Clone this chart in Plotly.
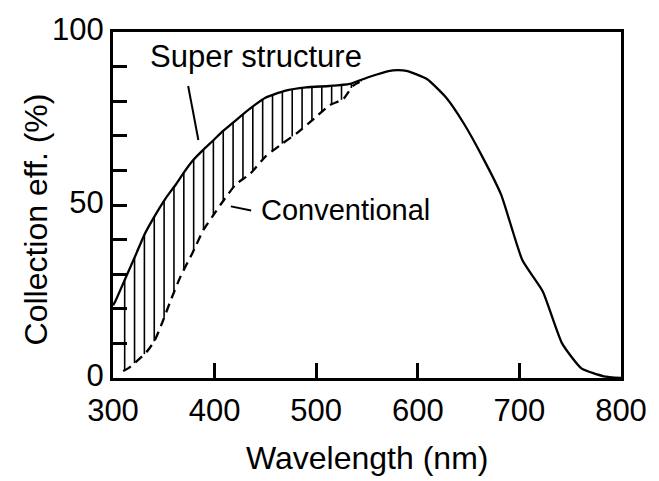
import numpy as np
import plotly.graph_objects as go

# ---- data ----
super_x = [300, 302, 314, 323, 331, 341, 352, 362, 370, 379, 389, 398, 406, 415, 427, 440, 450, 469, 490,
           513, 533, 552, 571, 580, 590, 609, 628, 645, 664, 682, 703, 723, 742, 761, 783, 800]
super_y = [21, 22, 30, 36, 41.5, 46.8, 52, 56, 59.5, 63, 66, 68.5, 70.8, 73, 76, 79, 81, 83, 84,
           84.4, 85, 87, 88.7, 89, 88.7, 86.4, 81, 73.7, 63.7, 53, 34, 25, 10, 2.8, 0.5, 0]

conv_x = [310, 316, 324, 333, 341, 349, 357, 367, 378, 389, 401, 410, 421, 435, 450, 465, 482,
          498, 513, 527, 536, 546]
conv_y = [2, 3, 5, 7.5, 10.8, 16.4, 22.6, 29.7, 36, 42.8, 48, 51.8, 56, 59, 64, 67.4, 71,
          75, 78.8, 80.7, 84.4, 86]

x_ticks = [300, 400, 500, 600, 700, 800]
y_ticks = [0, 10, 20, 30, 40, 50, 60, 70, 80, 90, 100]
y_ticktext = ["0", "", "", "", "", "50", "", "", "", "", "100"]

label_super = "Super structure"
label_conv = "Conventional"
x_title = "Wavelength (nm)"
y_title = "Collection eff. (%)"

FONT = "Liberation Sans, Arial, sans-serif"

# hatch lines between the two curves
hx = np.arange(311.5, 545, 9.7)
hx_list, hy_list = [], []
for xv in hx:
    top = np.interp(xv, super_x, super_y)
    bot = np.interp(xv, conv_x, conv_y) if xv >= conv_x[0] else 0
    hx_list += [xv, xv, None]
    hy_list += [bot, top, None]

fig = go.Figure()
fig.add_trace(go.Scatter(x=hx_list, y=hy_list, mode="lines",
                         line=dict(color="black", width=1.6), hoverinfo="skip"))
fig.add_trace(go.Scatter(x=conv_x, y=conv_y, mode="lines",
                         line=dict(color="black", width=2.3, dash="9px,6px", shape="spline", smoothing=0.5)))
fig.add_trace(go.Scatter(x=super_x, y=super_y, mode="lines",
                         line=dict(color="black", width=2.3, shape="spline", smoothing=0.5)))

# labels with leader lines
fig.add_annotation(x=441, y=93, text=label_super, showarrow=False,
                   font=dict(family=FONT, size=31, color="black"), xanchor="center", yanchor="middle")
fig.add_shape(type="line", x0=374, y0=84.4, x1=384, y1=68.8, line=dict(color="black", width=2))
fig.add_annotation(x=444, y=48.5, text=label_conv, showarrow=False,
                   font=dict(family=FONT, size=29, color="black"), xanchor="left", yanchor="middle")
fig.add_shape(type="line", x0=416, y0=49.6, x1=436, y1=48.4, line=dict(color="black", width=2))

# axis titles
fig.add_annotation(x=0.5, y=-0.232, xref="paper", yref="paper", text=x_title, showarrow=False,
                   font=dict(family=FONT, size=32, color="black"), xanchor="center", yanchor="middle")
fig.add_annotation(x=-0.151, y=0.459, xref="paper", yref="paper", text=y_title, showarrow=False,
                   textangle=-90, font=dict(family=FONT, size=32, color="black"),
                   xanchor="center", yanchor="middle")

fig.update_layout(
    width=659, height=481,
    margin=dict(l=113, r=30, t=25, b=103),
    paper_bgcolor="white", plot_bgcolor="white",
    showlegend=False,
    font=dict(family=FONT, size=31, color="black"),
)
fig.update_xaxes(range=[300, 800], tickvals=x_ticks, ticktext=[str(v) for v in x_ticks],
                 ticks="inside", ticklen=15, tickwidth=2.5, tickcolor="black",
                 showline=True, linecolor="black", linewidth=3, mirror=True,
                 showgrid=False, zeroline=False, ticklabelstandoff=3,
                 tickfont=dict(size=31))
fig.update_yaxes(range=[0, 100], tickvals=y_ticks, ticktext=y_ticktext,
                 ticks="inside", ticklen=14, tickwidth=2.5, tickcolor="black",
                 showline=True, linecolor="black", linewidth=3, mirror=True,
                 showgrid=False, zeroline=False, ticklabelshift=-3,
                 tickfont=dict(size=31))

fig.write_html("out.html")
